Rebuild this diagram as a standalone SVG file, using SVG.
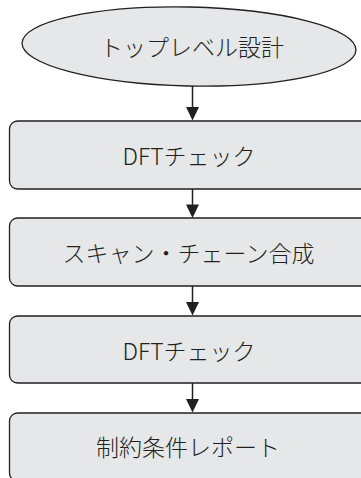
<svg xmlns="http://www.w3.org/2000/svg" width="361" height="478" viewBox="0 0 361 478">
<defs>
<style>
.node{fill:#e6e7e8;stroke:#231f20;stroke-width:1.3}
.lbl{font-family:"Noto Sans CJK JP","Noto Sans",sans-serif;font-size:23px;font-weight:300;fill:#231f20;text-anchor:middle;dominant-baseline:central}
.edge{stroke:#231f20;stroke-width:1.5;fill:none}
.head{fill:#231f20}
</style>
</defs>
<rect width="361" height="478" fill="#ffffff"/>
<g id="n0">
<ellipse class="node" cx="189" cy="46.5" rx="167" ry="39.5" transform="rotate(1.2 189 46.5)"/>
<text class="lbl" x="192" y="46">トップレベル設計</text>
</g>
<g id="n1">
<rect class="node" x="9.5" y="121" width="380" height="68" rx="8"/>
<text class="lbl" x="189" y="155" font-size="24">DFTチェック</text>
</g>
<g id="n2">
<rect class="node" x="9.5" y="218" width="380" height="68" rx="8"/>
<text class="lbl" x="188.5" y="252">スキャン・チェーン合成</text>
</g>
<g id="n3">
<rect class="node" x="9.5" y="316" width="380" height="67" rx="8"/>
<text class="lbl" x="189" y="349.5" font-size="24">DFTチェック</text>
</g>
<g id="n4">
<rect class="node" x="9.5" y="413" width="380" height="68" rx="8"/>
<text class="lbl" x="188" y="446">制約条件レポート</text>
</g>
<g id="connectors">
<line class="edge" x1="192.5" y1="86" x2="192.5" y2="108"/>
<polygon class="head" points="186,107 199,107 192.5,120.5"/>
<line class="edge" x1="192.5" y1="189" x2="192.5" y2="205"/>
<polygon class="head" points="186,204.5 199,204.5 192.5,218"/>
<line class="edge" x1="192.5" y1="286" x2="192.5" y2="303"/>
<polygon class="head" points="186,302 199,302 192.5,315.5"/>
<line class="edge" x1="192.5" y1="383" x2="192.5" y2="400"/>
<polygon class="head" points="186,399 199,399 192.5,412.5"/>
</g>
</svg>
